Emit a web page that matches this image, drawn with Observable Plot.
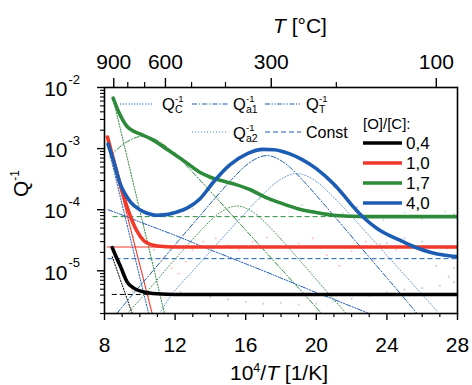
<!DOCTYPE html>
<html><head><meta charset="utf-8">
<script src="https://cdn.jsdelivr.net/npm/d3@7"></script>
<script src="https://cdn.jsdelivr.net/npm/@observablehq/plot@0.6"></script>
<style>body{margin:0;background:#fff}#chart{width:472px;height:385px}</style>
</head><body><div id="chart"></div>
<script>
// ---------- data ----------
const xMajor = [8, 12, 16, 20, 24, 28];
const yMajor = [1e-5, 1e-4, 1e-3, 1e-2];
const topMajorC = [900, 600, 300, 100];
const topMinorC = [800, 700, 500, 400, 200];
const seriesNames = ["0,4", "1,0", "1,7", "4,0"];

// total fitted curves [10^4/T, Q^-1]
const fit04 = [[8.44,2.4e-5],[8.62,1.8e-5],[8.91,1.17e-5],[9.28,6.6e-6],[9.66,5.2e-6],[10.23,4.5e-6],[10.98,4.2e-6],[12,4.1e-6],[16,4.1e-6],[20,4.1e-6],[24,4.1e-6],[28,4.1e-6]];
const fit10 = [[8.17,1.55e-3],[8.5,6.7e-4],[8.8,3.2e-4],[9.1,1.6e-4],[9.47,7.8e-5],[9.85,4.4e-5],[10.23,3.1e-5],[10.6,2.7e-5],[11,2.55e-5],[12,2.45e-5],[16,2.45e-5],[20,2.45e-5],[24,2.45e-5],[28,2.45e-5]];
const fit17 = [[8.49,6.7e-3],[8.8,4.0e-3],[9.28,2.3e-3],[9.7,1.9e-3],[10.04,1.72e-3],[10.6,1.46e-3],[11.6,9.5e-4],[12.5,6.3e-4],[13.4,4.1e-4],[14.0,3.4e-4],[14.6,3.0e-4],[15.5,2.55e-4],[16.3,2.1e-4],[17.1,1.6e-4],[18,1.28e-4],[19,1.03e-4],[20,9.0e-5],[21,8.1e-5],[22,7.8e-5],[23,7.7e-5],[25,7.7e-5],[28,7.7e-5]];
const fit40 = [[8.2,1.18e-3],[8.5,6.5e-4],[8.9,2.6e-4],[9.2,1.75e-4],[9.5,1.3e-4],[10.0,1.0e-4],[10.5,8.6e-5],[10.9,8.1e-5],[11.5,8.3e-5],[12.0,9.0e-5],[12.7,1.07e-4],[13.4,1.5e-4],[14.2,2.9e-4],[15.1,5.4e-4],[16.1,8.3e-4],[17.0,9.7e-4],[17.6,9.6e-4],[18.5,8.2e-4],[19.2,6.6e-4],[20,4.7e-4],[21,2.6e-4],[21.5,1.8e-4],[22,1.2e-4],[22.6,7.8e-5],[23.5,4.8e-5],[24.7,3.2e-5],[25.5,2.5e-5],[26.5,2.0e-5],[27.3,1.8e-5],[28,1.7e-5]];

// constant background levels
const const04 = 4.1e-6, const10 = 2.45e-5, const17 = 7.7e-5, const40 = 1.58e-5;

// component curves
const qc04 = [[8.44,1.7e-5],[9.57,2e-6]];
const qc10 = [[8.17,1.5e-3],[10.7,2e-6]];
const qc17 = [[8.49,6.5e-3],[11.4,2e-6]];
const qc40 = [[8.2,1.08e-3],[10.5,2e-6]];
const qa1_17 = [[8.3,7.5e-4],[9.2,1.25e-3],[10.2,1.6e-3],[11.2,1.25e-3],[12.2,7.05e-4],[13.2,3.54e-4],[14.2,1.72e-4],[15.2,8.3e-5],[16.2,4.0e-5],[17.2,1.93e-5],[18.2,9.3e-6],[19.2,4.5e-6],[20.3,2e-6]];
const qa2_17 = [[9.3,2e-6],[10.5,4.9e-6],[11.5,1.06e-5],[12.5,2.26e-5],[13.5,4.71e-5],[14.5,8.77e-5],[15.5,1.15e-4],[16.5,8.77e-5],[17.5,4.71e-5],[18.5,2.26e-5],[19.5,1.06e-5],[20.5,4.9e-6],[21.7,2e-6]];
const qa1_40 = [[8.7,2e-6],[9.2,3.0e-6],[10.2,6.55e-6],[11.2,1.43e-5],[12.2,3.12e-5],[13.2,6.8e-5],[14.2,1.47e-4],[15.2,3.1e-4],[16.2,5.83e-4],[17.2,7.7e-4],[18.2,5.83e-4],[19.2,3.1e-4],[20.2,1.47e-4],[21.2,6.8e-5],[22.2,3.12e-5],[23.2,1.43e-5],[24.2,6.55e-6],[25.2,3.0e-6],[25.7,2e-6]];
const qa2_40 = [[11.2,2.2e-6],[11.9,4.4e-6],[12.9,9.2e-6],[13.9,1.93e-5],[14.9,4.03e-5],[15.9,8.37e-5],[16.9,1.69e-4],[17.9,3.03e-4],[18.9,3.9e-4],[19.9,3.03e-4],[20.9,1.69e-4],[21.9,8.37e-5],[22.9,4.03e-5],[23.9,1.93e-5],[24.9,9.2e-6],[25.9,4.4e-6],[26.9,2.1e-6]];
const qt_40 = [[8.2,1.0e-4],[9,8.2e-5],[10,6.3e-5],[11,4.9e-5],[12,3.8e-5],[13,2.9e-5],[14,2.2e-5],[15,1.7e-5],[16,1.3e-5],[17,1.0e-5],[18,7.6e-6],[19,5.8e-6],[20,4.4e-6],[21,3.4e-6],[22,2.6e-6],[23,2.0e-6]];

// measured points (faint)
const pts04 = [[9.0,9e-6],[9.3,6e-6],[9.6,4.6e-6],[10.5,3.9e-6],[11.5,4.3e-6],[12.3,4.5e-6],[13,4.0e-6],[14,3.7e-6],[15,3.4e-6],[16,3.1e-6],[17,2.9e-6],[18,3.0e-6],[19,2.8e-6],[20,2.9e-6],[21,3.2e-6],[22,3.5e-6],[23,3.9e-6],[24,4.4e-6],[25,4.9e-6],[26,5.2e-6],[27,5.7e-6],[27.8,6.5e-6]];
const pts10 = [[9.7,5e-5],[10.2,3.4e-5],[10.8,2.2e-5],[11.3,1.6e-5],[11.8,1.1e-5],[12.2,9e-6],[12.6,1.4e-5],[13,2.2e-5],[13.6,3e-5],[14.3,3.4e-5],[15,2.6e-5],[15.6,2.2e-5],[16.4,3.0e-5],[17.2,3.5e-5],[18,3.3e-5],[19,2.8e-5],[19.8,3.4e-5],[20.6,1.8e-5],[21.3,1.2e-5],[22,2.1e-5],[22.8,3.0e-5],[23.6,2.7e-5],[24.5,2.2e-5],[25.5,2.6e-5],[26.5,2.0e-5],[27.4,2.3e-5]];
const pts17 = [[9.6,1.9e-3],[10.5,1.5e-3],[12,8.5e-4],[13,4.8e-4],[16.8,1.5e-4],[19.2,1.2e-4],[21.5,8.7e-5],[23.8,6.7e-5],[25,9e-5],[26,7e-5],[27.3,9.3e-5],[27.8,8.5e-5]];
const pts40 = [[11.2,8.7e-5],[11.8,9.2e-5],[12.4,9.6e-5],[13,1.05e-4],[19.5,6e-4],[21,2.4e-4],[22.3,1.1e-4],[23.4,5e-5],[24,2.8e-5],[25,3.4e-5],[26,3.0e-5],[26.8,1.2e-5],[27.5,8e-6],[27.8,1.1e-5]];

// ---------- styling ----------
const FONT = "'Liberation Sans', Arial, Helvetica, sans-serif";
const COL = {k:"#000000", r:"#f0392b", g:"#2d8a3b", b:"#1c5cb2", b2:"#4d86d2"};
const DASH = {qc:"1.2,1.6", a1:"5,2,1.2,2", t:"5,1.6,1.2,1.6,1.2,1.6", a2:"1,2", cst:"5,3"};
const toX = c => 1e4 / (c + 273.15);

const L = (data, stroke, o = {}) => Plot.line(data, {x: d => d[0], y: d => d[1], stroke, strokeWidth: 1, clip: true, curve: "monotone-x", ...o});
const P = (data, fill) => Plot.dot(data, {x: d => d[0], y: d => d[1], r: 1.1, fill, fillOpacity: 0.45, stroke: "none", clip: true});
const R = (v, x1, stroke, o = {}) => Plot.ruleY([v], {x1, x2: 28, stroke, strokeWidth: 1, strokeDasharray: DASH.cst, clip: true, ...o});

const yMinor = [];
for (let e = -6; e <= -3; e++) for (let k = 2; k <= 9; k++) { const v = k * Math.pow(10, e); if (v >= 2e-6 && v < 1e-2) yMinor.push(v); }
const xMinor = d3.range(9, 28, 1).filter(v => !xMajor.includes(v));

const plot = Plot.plot({
  width: 472, height: 385,
  marginLeft: 104, marginRight: 15, marginTop: 87, marginBottom: 72,
  style: {fontFamily: FONT, background: "white"},
  x: {domain: [8, 28]},
  y: {type: "log", domain: [2e-6, 1e-2]},
  marks: [
    P(pts04, "#9a9a9a"), P(pts10, "#f28a80"), P(pts17, "#8cc98f"), P(pts40, "#9090d8"),
    R(const04, fit04[0][0], COL.k), R(const10, fit10[0][0], COL.r, {strokeDasharray: null}),
    R(const17, fit17[0][0], COL.g), R(const40, fit40[0][0], COL.b),
    L(qc04, COL.k, {strokeDasharray: DASH.qc}),
    L(qc10, COL.r, {strokeDasharray: null, strokeWidth: 1.1}),
    L(qc17, COL.g, {strokeDasharray: DASH.qc}),
    L(qc40, COL.b, {strokeDasharray: DASH.qc}),
    L(qa1_17, COL.g, {strokeDasharray: DASH.a1}),
    L(qa2_17, COL.g, {strokeDasharray: DASH.a2, strokeWidth: 0.9}),
    L(qa1_40, COL.b, {strokeDasharray: DASH.a1}),
    L(qa2_40, COL.b2, {strokeDasharray: DASH.a2, strokeWidth: 0.9}),
    L(qt_40, COL.b, {strokeDasharray: DASH.t}),
    L(fit04, COL.k, {strokeWidth: 3.6}),
    L(fit10, COL.r, {strokeWidth: 3.6}),
    L(fit17, COL.g, {strokeWidth: 3.6}),
    L(fit40, COL.b, {strokeWidth: 3.6}),
    Plot.frame({stroke: "black", strokeWidth: 1.6}),
    Plot.axisX({anchor: "bottom", ticks: xMajor, tickSize: 7, tickFormat: () => "", label: null, strokeWidth: 1.4}),
    Plot.axisX({anchor: "bottom", ticks: xMinor, tickSize: 4, tickFormat: () => "", label: null, strokeWidth: 1.2}),
    Plot.axisX({anchor: "top", ticks: topMajorC.map(toX), tickSize: 10, tickFormat: () => "", label: null, strokeWidth: 1.4}),
    Plot.axisX({anchor: "top", ticks: topMinorC.map(toX), tickSize: 6, tickFormat: () => "", label: null, strokeWidth: 1.2}),
    Plot.axisY({anchor: "left", ticks: yMajor, tickSize: 7, tickFormat: () => "", label: null, strokeWidth: 1.4}),
    Plot.axisY({anchor: "left", ticks: yMinor, tickSize: 4, tickFormat: () => "", label: null, strokeWidth: 1.1}),
    Plot.text(xMajor, {x: d => d, frameAnchor: "bottom", lineAnchor: "middle", dy: 32, text: d => String(d), fontSize: 21, fill: "black"}),
    Plot.text(topMajorC, {x: d => toX(d), frameAnchor: "top", lineAnchor: "middle", dy: -25, text: d => String(d), fontSize: 21, fill: "black"}),
    Plot.text(yMajor, {y: d => d, frameAnchor: "left", lineAnchor: "middle", textAnchor: "end", dx: -37, dy: 2, text: () => "10", fontSize: 21, fill: "black"}),
    Plot.text(yMajor, {y: d => d, frameAnchor: "left", lineAnchor: "middle", textAnchor: "start", dx: -36, dy: -8, text: d => String(Math.round(Math.log10(d))), fontSize: 13, fill: "black"})
  ]
});
document.getElementById("chart").appendChild(plot);

// ---------- titles and legends ----------
const svg = d3.select(plot);
const g = svg.append("g").attr("font-family", FONT).attr("fill", "black").attr("text-anchor", "start");

const xt = g.append("text").attr("x", 279).attr("y", 380).attr("text-anchor", "middle").attr("font-size", 21);
xt.append("tspan").text("10");
xt.append("tspan").attr("dy", -8).attr("font-size", 12.5).text("4");
xt.append("tspan").attr("dy", 8).text("/");
xt.append("tspan").attr("font-style", "italic").text("T");
xt.append("tspan").text(" [1/K]");

const tt = g.append("text").attr("x", 273).attr("y", 33).attr("font-size", 21);
tt.append("tspan").attr("font-style", "italic").text("T");
tt.append("tspan").text(" [°C]");

const yt = g.append("text").attr("transform", "translate(28,197) rotate(-90)").attr("font-size", 21);
yt.append("tspan").text("Q");
yt.append("tspan").attr("dy", -9).attr("font-size", 12).text("-1");

function sample(x1, x2, y, dash, color) {
  g.append("line").attr("x1", x1).attr("x2", x2).attr("y1", y).attr("y2", y)
    .attr("stroke", color || COL.b).attr("stroke-width", 1.1).attr("stroke-dasharray", dash);
}
function qLabel(x, base, sub) {
  g.append("text").attr("x", x).attr("y", base).attr("font-size", 16.5).text("Q");
  g.append("text").attr("x", x + 13).attr("y", base - 8).attr("font-size", 9.5).text("-1");
  g.append("text").attr("x", x + 13).attr("y", base + 3).attr("font-size", 10.5).text(sub);
}
sample(120, 153, 104, DASH.qc); qLabel(162, 110, "C");
sample(192, 228, 104, DASH.a1); qLabel(233, 110, "a1");
sample(265, 301, 104, DASH.t); qLabel(306, 110, "T");
sample(192, 228, 132, DASH.a2, COL.b2); qLabel(233, 139, "a2");
sample(265, 301, 132, DASH.cst);
g.append("text").attr("x", 306).attr("y", 138).attr("font-size", 16).text("Const");

g.append("text").attr("x", 363).attr("y", 129).attr("font-size", 15).text("[O]/[C]:");
const sCols = [COL.k, COL.r, COL.g, COL.b];
seriesNames.forEach((nm, i) => {
  const y = 143 + i * 20;
  g.append("line").attr("x1", 363).attr("x2", 402).attr("y1", y).attr("y2", y)
    .attr("stroke", sCols[i]).attr("stroke-width", 3.6);
  g.append("text").attr("x", 406).attr("y", y + 6).attr("font-size", 17).text(nm);
});
</script></body></html>
